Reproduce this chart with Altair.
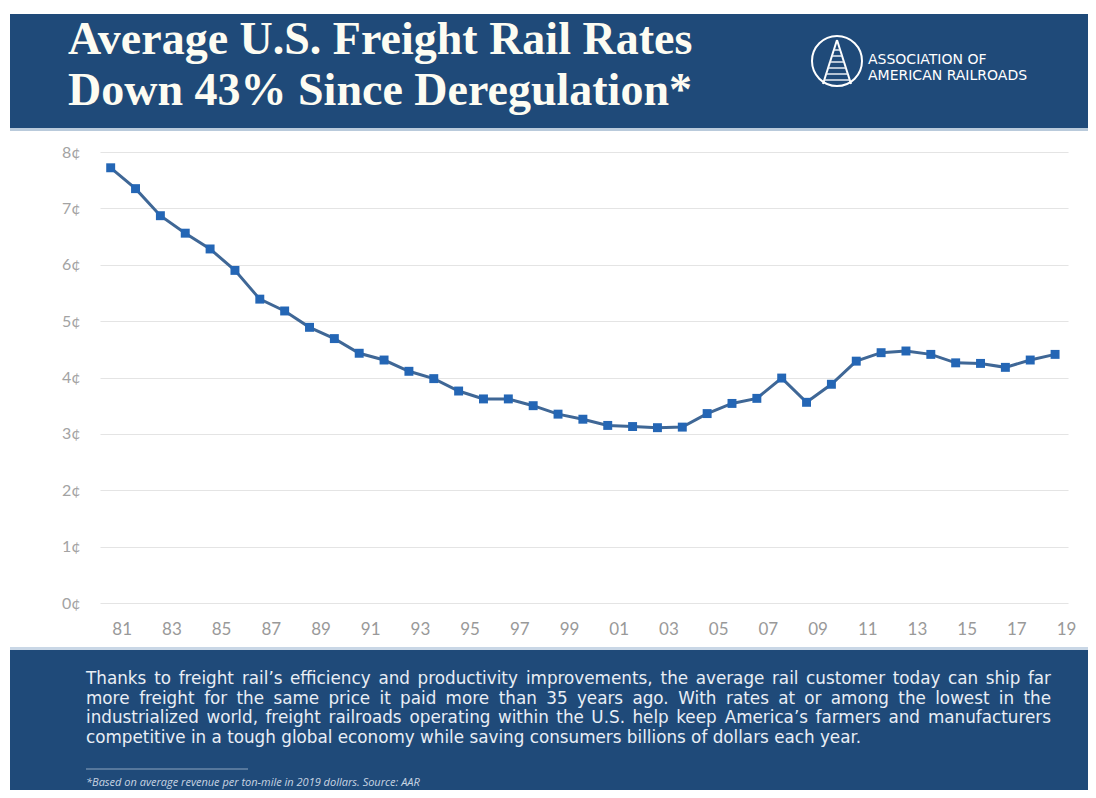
import altair as alt
import pandas as pd

# ---------------- data ----------------
years = [1981, 1982, 1983, 1984, 1985, 1986, 1987, 1988, 1989, 1990,
         1991, 1992, 1993, 1994, 1995, 1996, 1997, 1998, 1999, 2000,
         2001, 2002, 2003, 2004, 2005, 2006, 2007, 2008, 2009, 2010,
         2011, 2012, 2013, 2014, 2015, 2016, 2017, 2018, 2019]
rates = [7.72, 7.35, 6.87, 6.56, 6.28, 5.90, 5.39, 5.18, 4.89, 4.69,
         4.43, 4.31, 4.11, 3.98, 3.76, 3.62, 3.62, 3.50, 3.35, 3.26,
         3.15, 3.13, 3.11, 3.12, 3.36, 3.54, 3.63, 3.99, 3.56, 3.88,
         4.29, 4.44, 4.47, 4.41, 4.26, 4.25, 4.18, 4.31, 4.41]
x_ticks = [1981, 1983, 1985, 1987, 1989, 1991, 1993, 1995, 1997, 1999,
           2001, 2003, 2005, 2007, 2009, 2011, 2013, 2015, 2017, 2019]
y_ticks = [0, 1, 2, 3, 4, 5, 6, 7, 8]

title_lines = ["Average U.S. Freight Rail Rates", "Down 43% Since Deregulation*"]
logo_lines = ["ASSOCIATION OF", "AMERICAN RAILROADS"]
para_lines = [
    "Thanks to freight rail\u2019s efficiency and productivity improvements, the average rail customer today can ship far",
    "more freight for the same price it paid more than 35 years ago. With rates at or among the lowest in the",
    "industrialized world, freight railroads operating within the U.S. help keep America\u2019s farmers and manufacturers",
    "competitive in a tough global economy while saving consumers billions of dollars each year.",
]
footnote = "*Based on average revenue per ton-mile in 2019 dollars. Source: AAR"

df = pd.DataFrame({"year": years, "rate": rates})
one = pd.DataFrame({"k": [0]})

NAVY = "#1f4a79"
W, H = 968, 451

# approximate DejaVu Sans advance widths (units per 2048 em) used to justify the paragraph
ADV = {" ": 651, ",": 651, ".": 651, "\u2019": 651, "'": 563, "-": 739,
       "A": 1401, "S": 1300, "U": 1499, "W": 2025,
       "a": 1255, "b": 1300, "c": 1126, "d": 1300, "e": 1260, "f": 721, "g": 1300,
       "h": 1298, "i": 569, "j": 569, "k": 1186, "l": 569, "m": 1995, "n": 1298,
       "o": 1253, "p": 1300, "q": 1300, "r": 842, "s": 1067, "t": 803, "u": 1298,
       "v": 1212, "w": 1675, "x": 1212, "y": 1212, "z": 1075}
for d in "0123456789":
    ADV[d] = 1303

def text_width(s, size):
    return sum(ADV.get(ch, 1300) for ch in s) * size / 2048.0

def rect(x1, x2, y1, y2, color):
    return alt.Chart(one).mark_rect(color=color).encode(
        x=alt.value(x1), x2=alt.value(x2), y=alt.value(y1), y2=alt.value(y2))

def text(t, x, y, **kw):
    return alt.Chart(one).mark_text(text=t, **kw).encode(x=alt.value(x), y=alt.value(y))

def rule(x1, y1, x2, y2, color, width=1.0):
    return alt.Chart(one).mark_rule(color=color, strokeWidth=width).encode(
        x=alt.value(x1), y=alt.value(y1), x2=alt.value(x2), y2=alt.value(y2))

layers = []
# banners
layers.append(rect(-90, 988, -138, -24, NAVY))
layers.append(rect(-90, 988, -24, -21, "#b9cadb"))
layers.append(rect(-90, 988, 495, 498, "#c9d7e6"))
layers.append(rect(-90, 988, 498, 640, NAVY))

# main series
base = alt.Chart(df).encode(
    x=alt.X("year:Q",
            scale=alt.Scale(domain=[1980.57, 2019.52], nice=False, zero=False),
            axis=alt.Axis(values=x_ticks, labelExpr="format(datum.value % 100, '02')",
                          grid=False, domain=False, ticks=False, labelOffset=11,
                          labelPadding=18, labelFont="Lato", labelFontSize=17,
                          labelColor="#999999", title=None)),
    y=alt.Y("rate:Q",
            scale=alt.Scale(domain=[0, 8], nice=False),
            axis=alt.Axis(values=y_ticks, labelExpr="datum.value + '\u00a2'",
                          grid=True, gridColor="#e4e4e4", gridWidth=1.2,
                          domain=False, ticks=False, labelPadding=20,
                          labelFont="Lato", labelFontSize=16, labelColor="#a3a3a3",
                          title=None)),
)
layers.append(base.mark_line(color="#3f6796", strokeWidth=3))
layers.append(base.mark_point(shape="square", filled=True, size=80, color="#2466b5", opacity=1))

# title
layers.append(text(title_lines[0], -32, -98, font="Liberation Serif", fontSize=46,
                   fontWeight="bold", color="#fdfcf2", align="left", baseline="alphabetic"))
layers.append(text(title_lines[1], -32, -47, font="Liberation Serif", fontSize=46,
                   fontWeight="bold", color="#fdfcf2", align="left", baseline="alphabetic"))

# logo
layers.append(alt.Chart(one).mark_point(shape="circle", size=2500, filled=False,
                                        color="white", strokeWidth=2, opacity=1).encode(
    x=alt.value(737), y=alt.value(-91)))
layers.append(rule(737, -112, 723, -68, "white", 2))
layers.append(rule(737, -112, 751, -68, "white", 2))
for i in range(6):
    yy = -72 - i * 6
    hw = 14 * (yy + 112) / 44.0
    layers.append(rule(737 - hw, yy, 737 + hw, yy, "#e8eef5", 1.5))
layers.append(text(logo_lines[0], 768, -88.5, font="DejaVu Sans", fontSize=14,
                   color="white", align="left", baseline="alphabetic"))
layers.append(text(logo_lines[1], 768, -72, font="DejaVu Sans", fontSize=14,
                   color="white", align="left", baseline="alphabetic"))

# paragraph, justified word by word (last line left-aligned)
PL, PR = -14, 951
PSIZE = 16.8
PFONT = dict(font="DejaVu Sans", fontSize=PSIZE, color="#e9eef5", baseline="alphabetic")
for i, line in enumerate(para_lines):
    yy = 532 + i * 19.7
    if i == len(para_lines) - 1:
        layers.append(text(line, PL, yy, align="left", **PFONT))
        continue
    words = line.split(" ")
    widths = [text_width(w, PSIZE) for w in words]
    gap = (PR - PL - sum(widths)) / (len(words) - 1)
    xpos = PL
    for j, w in enumerate(words):
        if j == len(words) - 1:
            layers.append(text(w, PR, yy, align="right", **PFONT))
        else:
            layers.append(text(w, xpos, yy, align="left", **PFONT))
        xpos += widths[j] + gap

layers.append(rule(-14, 617, 148, 617, "#8ea5c0", 1))
layers.append(text(footnote, -14, 634, font="Open Sans", fontSize=11, fontStyle="italic",
                   color="#c9d5e3", align="left", baseline="alphabetic"))

chart = alt.layer(*layers).properties(
    width=W, height=H,
    padding={"left": 92, "top": 144, "right": 20, "bottom": 187},
    autosize=alt.AutoSizeParams(type="none"),
    background="white",
).configure_view(strokeWidth=0)

chart.save("out.html", embed_options={"renderer": "svg", "actions": False})
